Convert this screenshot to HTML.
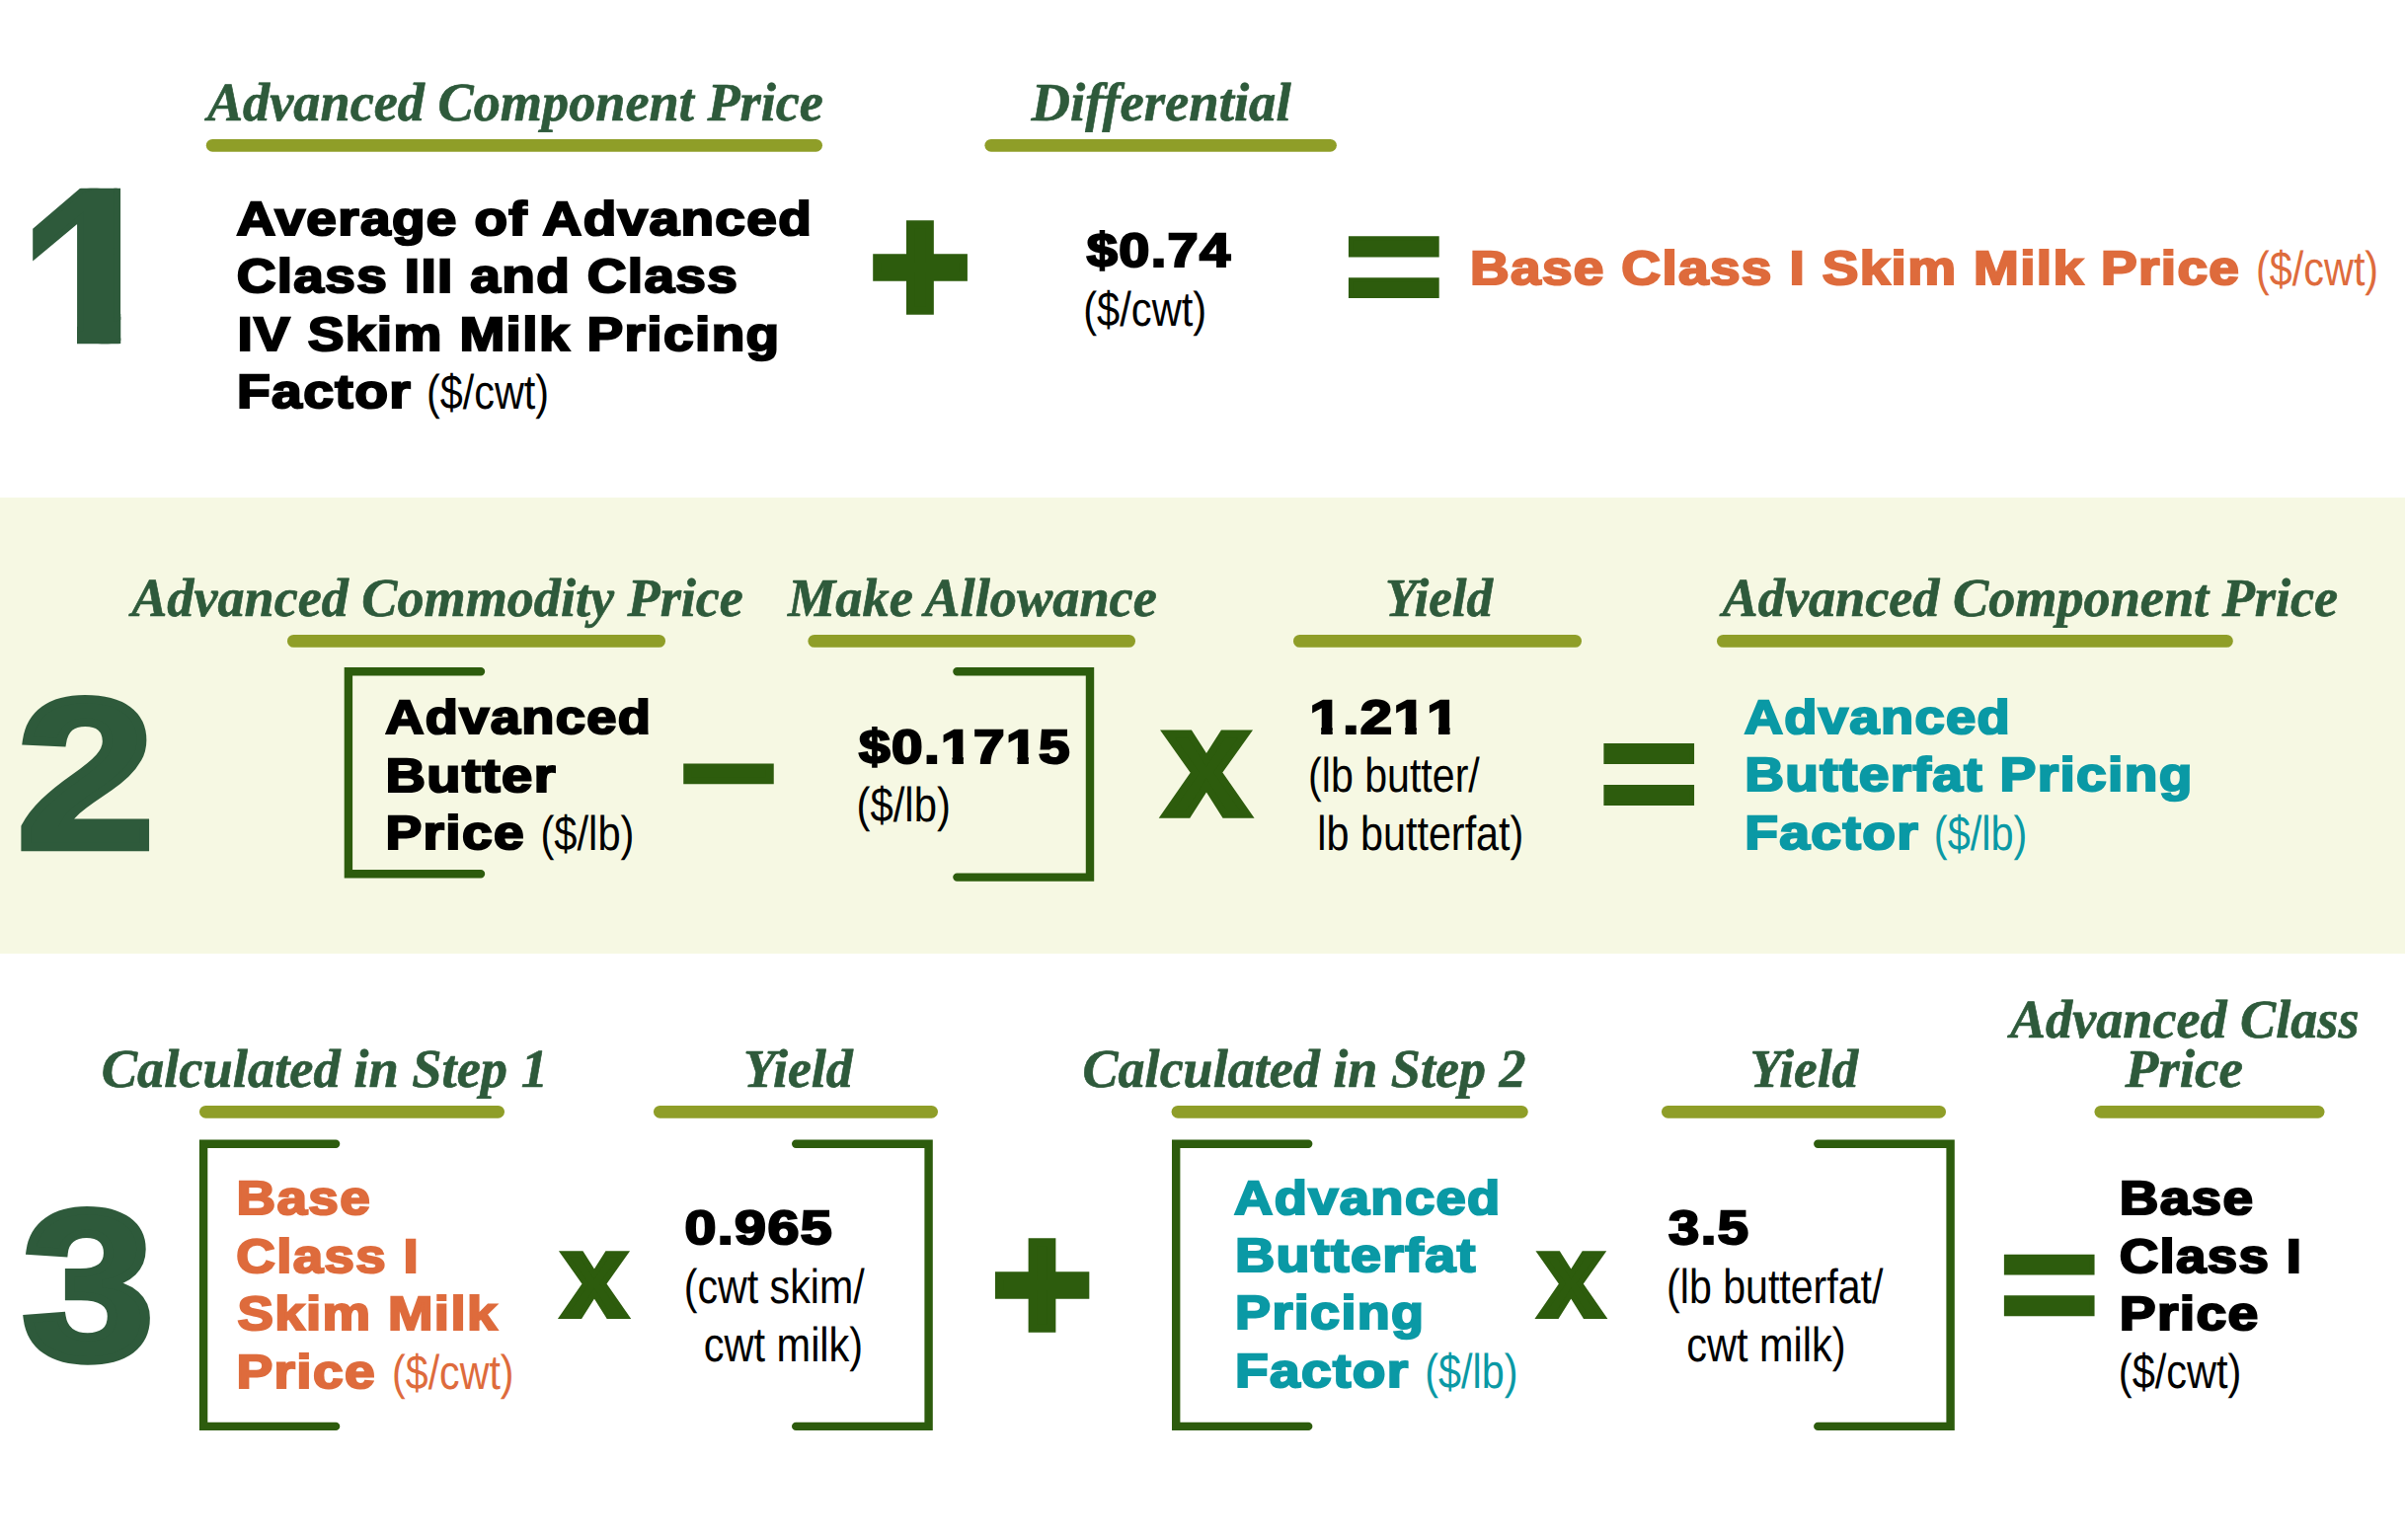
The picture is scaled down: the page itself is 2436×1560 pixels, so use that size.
<!DOCTYPE html>
<html lang="en"><head><meta charset="utf-8"><title>Class I Price Formula</title>
<style>html,body{margin:0;padding:0;background:#fff}body{width:2436px;height:1560px;overflow:hidden}text{text-rendering:geometricPrecision}</style></head>
<body>
<svg width="2436" height="1560" viewBox="0 0 2436 1560" style="display:block">
<rect x="0" y="504.1" width="2436" height="462.0" fill="#f6f8e3"/>
<rect x="208.8" y="140.9" width="624.2" height="12.8" rx="6.4" ry="6.4" fill="#8f9e28"/>
<rect x="997.4" y="140.9" width="356.5" height="12.8" rx="6.4" ry="6.4" fill="#8f9e28"/>
<rect x="291.0" y="643.0" width="383.0" height="12.8" rx="6.4" ry="6.4" fill="#8f9e28"/>
<rect x="818.4" y="643.0" width="331.6" height="12.8" rx="6.4" ry="6.4" fill="#8f9e28"/>
<rect x="1310.0" y="643.0" width="292.0" height="12.8" rx="6.4" ry="6.4" fill="#8f9e28"/>
<rect x="1739.0" y="643.0" width="522.8" height="12.8" rx="6.4" ry="6.4" fill="#8f9e28"/>
<rect x="202.0" y="1119.9" width="309.0" height="12.8" rx="6.4" ry="6.4" fill="#8f9e28"/>
<rect x="662.0" y="1119.9" width="288.0" height="12.8" rx="6.4" ry="6.4" fill="#8f9e28"/>
<rect x="1186.6" y="1119.9" width="361.1" height="12.8" rx="6.4" ry="6.4" fill="#8f9e28"/>
<rect x="1683.0" y="1119.9" width="288.0" height="12.8" rx="6.4" ry="6.4" fill="#8f9e28"/>
<rect x="2121.5" y="1119.9" width="233.0" height="12.8" rx="6.4" ry="6.4" fill="#8f9e28"/>
<path d="M487.0,680.2 H352.9 V885.3 H487.0" fill="none" stroke="#2d5c0d" stroke-width="8.4" stroke-linecap="round" stroke-linejoin="miter"/>
<path d="M969.4,680.2 H1104.0 V888.6 H969.4" fill="none" stroke="#2d5c0d" stroke-width="8.4" stroke-linecap="round" stroke-linejoin="miter"/>
<path d="M340.1,1158.8 H206.1 V1444.9 H340.1" fill="none" stroke="#2d5c0d" stroke-width="8.4" stroke-linecap="round" stroke-linejoin="miter"/>
<path d="M806.2,1158.8 H940.6 V1444.9 H806.2" fill="none" stroke="#2d5c0d" stroke-width="8.4" stroke-linecap="round" stroke-linejoin="miter"/>
<path d="M1325.2,1158.8 H1191.2 V1444.9 H1325.2" fill="none" stroke="#2d5c0d" stroke-width="8.4" stroke-linecap="round" stroke-linejoin="miter"/>
<path d="M1841.3,1158.8 H1975.6 V1444.9 H1841.3" fill="none" stroke="#2d5c0d" stroke-width="8.4" stroke-linecap="round" stroke-linejoin="miter"/>
<text transform="translate(209.91,121.55) scale(0.9867,1.0000)" font-family='"Liberation Serif", serif' font-weight="bold" font-style="italic" font-size="55" fill="#2e5a3b" stroke="#2e5a3b" stroke-width="0.7" stroke-linejoin="round" xml:space="preserve">Advanced Component Price</text>
<text transform="translate(1044.55,121.55) scale(0.9934,1.0000)" font-family='"Liberation Serif", serif' font-weight="bold" font-style="italic" font-size="55" fill="#2e5a3b" stroke="#2e5a3b" stroke-width="0.7" stroke-linejoin="round" xml:space="preserve">Differential</text>
<clipPath id="c2"><polygon points="0,190.8 122.25,190.8 122.25,348.3 78,348.3 78,300 0,300"/></clipPath><g clip-path="url(#c2)"><g transform="translate(122.3,0) skewY(-16) translate(-122.3,0)"><text transform="translate(18.01,345.32) scale(1.3598,1.1930)" font-family='"Liberation Sans", sans-serif' font-weight="bold" font-style="normal" font-size="200" fill="#2e5a3b" stroke="#2e5a3b" stroke-width="5" stroke-linejoin="miter" xml:space="preserve">1</text></g></g>
<text transform="translate(239.38,237.70) scale(1.1378,1.0000)" font-family='"Liberation Sans", sans-serif' font-weight="bold" font-style="normal" font-size="48.3" fill="#000000" stroke="#000000" stroke-width="2.2" stroke-linejoin="miter" letter-spacing="1.2" xml:space="preserve">Average of Advanced</text>
<text transform="translate(239.66,296.20) scale(1.1378,1.0000)" font-family='"Liberation Sans", sans-serif' font-weight="bold" font-style="normal" font-size="48.3" fill="#000000" stroke="#000000" stroke-width="2.2" stroke-linejoin="miter" letter-spacing="1.2" xml:space="preserve">Class III and Class</text>
<text transform="translate(240.44,354.70) scale(1.1391,1.0000)" font-family='"Liberation Sans", sans-serif' font-weight="bold" font-style="normal" font-size="48.3" fill="#000000" stroke="#000000" stroke-width="2.2" stroke-linejoin="miter" letter-spacing="1.2" xml:space="preserve">IV Skim Milk Pricing</text>
<text transform="translate(239.92,412.90) scale(1.1453,1.0000)" font-family='"Liberation Sans", sans-serif' font-weight="bold" font-style="normal" font-size="48.3" fill="#000000" stroke="#000000" stroke-width="2.2" stroke-linejoin="miter" letter-spacing="1.2" xml:space="preserve">Factor</text>
<text transform="translate(431.97,414.00) scale(0.8440,1.0000)" font-family='"Liberation Sans", sans-serif' font-weight="normal" font-style="normal" font-size="49" fill="#000000" xml:space="preserve">($/cwt)</text>
<text transform="translate(881.21,327.98) scale(1.4460,1.4284)" font-family='"Liberation Sans", sans-serif' font-weight="bold" font-style="normal" font-size="120" fill="#2d5c0d" stroke="#2d5c0d" stroke-width="6" stroke-linejoin="miter" xml:space="preserve">+</text>
<text transform="translate(1100.67,270.30) scale(1.1583,1.0000)" font-family='"Liberation Sans", sans-serif' font-weight="bold" font-style="normal" font-size="48.3" fill="#000000" stroke="#000000" stroke-width="2.2" stroke-linejoin="miter" letter-spacing="1.2" xml:space="preserve">$0.74</text>
<text transform="translate(1097.25,330.20) scale(0.8496,1.0000)" font-family='"Liberation Sans", sans-serif' font-weight="normal" font-style="normal" font-size="49" fill="#000000" xml:space="preserve">($/cwt)</text>
<text transform="translate(1360.93,322.31) scale(1.4482,1.2907)" font-family='"Liberation Sans", sans-serif' font-weight="bold" font-style="normal" font-size="120" fill="#2d5c0d" stroke="#2d5c0d" stroke-width="3.2" stroke-linejoin="miter" xml:space="preserve">=</text>
<text transform="translate(1488.94,288.20) scale(1.1375,1.0000)" font-family='"Liberation Sans", sans-serif' font-weight="bold" font-style="normal" font-size="48.3" fill="#de6b3c" stroke="#de6b3c" stroke-width="2.2" stroke-linejoin="miter" letter-spacing="1.2" xml:space="preserve">Base Class I Skim Milk Price</text>
<text transform="translate(2285.07,289.30) scale(0.8440,1.0000)" font-family='"Liberation Sans", sans-serif' font-weight="normal" font-style="normal" font-size="49" fill="#de6b3c" xml:space="preserve">($/cwt)</text>
<text transform="translate(133.20,623.65) scale(0.9846,1.0000)" font-family='"Liberation Serif", serif' font-weight="bold" font-style="italic" font-size="55" fill="#2e5a3b" stroke="#2e5a3b" stroke-width="0.7" stroke-linejoin="round" xml:space="preserve">Advanced Commodity Price</text>
<text transform="translate(797.99,623.65) scale(0.9881,1.0000)" font-family='"Liberation Serif", serif' font-weight="bold" font-style="italic" font-size="55" fill="#2e5a3b" stroke="#2e5a3b" stroke-width="0.7" stroke-linejoin="round" xml:space="preserve">Make Allowance</text>
<text transform="translate(1402.99,623.65) scale(0.9632,1.0000)" font-family='"Liberation Serif", serif' font-weight="bold" font-style="italic" font-size="55" fill="#2e5a3b" stroke="#2e5a3b" stroke-width="0.7" stroke-linejoin="round" xml:space="preserve">Yield</text>
<text transform="translate(1744.60,623.65) scale(0.9859,1.0000)" font-family='"Liberation Serif", serif' font-weight="bold" font-style="italic" font-size="55" fill="#2e5a3b" stroke="#2e5a3b" stroke-width="0.7" stroke-linejoin="round" xml:space="preserve">Advanced Component Price</text>
<text transform="translate(17.67,857.91) scale(1.2432,1.0725)" font-family='"Liberation Sans", sans-serif' font-weight="bold" font-style="normal" font-size="200" fill="#2e5a3b" stroke="#2e5a3b" stroke-width="8" stroke-linejoin="miter" xml:space="preserve">2</text>
<text transform="translate(390.18,743.10) scale(1.1238,1.0000)" font-family='"Liberation Sans", sans-serif' font-weight="bold" font-style="normal" font-size="48.3" fill="#000000" stroke="#000000" stroke-width="2.2" stroke-linejoin="miter" letter-spacing="1.2" xml:space="preserve">Advanced</text>
<text transform="translate(390.39,801.90) scale(1.1610,1.0000)" font-family='"Liberation Sans", sans-serif' font-weight="bold" font-style="normal" font-size="48.3" fill="#000000" stroke="#000000" stroke-width="2.2" stroke-linejoin="miter" letter-spacing="1.2" xml:space="preserve">Butter</text>
<text transform="translate(390.44,860.10) scale(1.1393,1.0000)" font-family='"Liberation Sans", sans-serif' font-weight="bold" font-style="normal" font-size="48.3" fill="#000000" stroke="#000000" stroke-width="2.2" stroke-linejoin="miter" letter-spacing="1.2" xml:space="preserve">Price</text>
<text transform="translate(547.45,861.20) scale(0.8512,1.0000)" font-family='"Liberation Sans", sans-serif' font-weight="normal" font-style="normal" font-size="49" fill="#000000" xml:space="preserve">($/lb)</text>
<text transform="translate(689.43,827.39) scale(1.3826,1.0805)" font-family='"Liberation Sans", sans-serif' font-weight="bold" font-style="normal" font-size="120" fill="#2d5c0d" stroke="#2d5c0d" stroke-width="6" stroke-linejoin="miter" xml:space="preserve">−</text>
<clipPath id="f3"><rect x="-50" y="-200" width="2000" height="193.57"/><rect x="-50" y="3.10" width="2000" height="100"/><rect x="-5.00" y="-7.43" width="75.34" height="11.53"/><rect x="80.60" y="-7.43" width="9.47" height="11.53"/><rect x="99.21" y="-7.43" width="27.26" height="11.53"/><rect x="136.72" y="-7.43" width="9.47" height="11.53"/><rect x="155.33" y="-7.43" width="32.26" height="11.53"/></clipPath><g transform="translate(869.98,772.60) scale(1.1748,1.0000)" clip-path="url(#f3)"><text style="font-kerning:none" transform="translate(0.00,0.00) scale(1.0000,1.0000)" font-family='"Liberation Sans", sans-serif' font-weight="bold" font-style="normal" font-size="48.3" fill="#000000" stroke="#000000" stroke-width="2.2" stroke-linejoin="miter" letter-spacing="1.2" xml:space="preserve">$0.1715</text></g>
<text transform="translate(867.54,832.10) scale(0.8540,1.0000)" font-family='"Liberation Sans", sans-serif' font-weight="normal" font-style="normal" font-size="49" fill="#000000" xml:space="preserve">($/lb)</text>
<text transform="translate(1180.02,825.43) scale(1.2641,1.2892)" font-family='"Liberation Sans", sans-serif' font-weight="bold" font-style="normal" font-size="120" fill="#2d5c0d" stroke="#2d5c0d" stroke-width="6" stroke-linejoin="miter" xml:space="preserve">x</text>
<clipPath id="f4"><rect x="-50" y="-200" width="2000" height="193.57"/><rect x="-50" y="3.10" width="2000" height="100"/><rect x="9.85" y="-7.43" width="9.47" height="11.53"/><rect x="28.46" y="-7.43" width="41.88" height="11.53"/><rect x="80.60" y="-7.43" width="9.47" height="11.53"/><rect x="108.66" y="-7.43" width="9.47" height="11.53"/></clipPath><g transform="translate(1326.39,743.30) scale(1.2026,1.0000)" clip-path="url(#f4)"><text style="font-kerning:none" transform="translate(0.00,0.00) scale(1.0000,1.0000)" font-family='"Liberation Sans", sans-serif' font-weight="bold" font-style="normal" font-size="48.3" fill="#000000" stroke="#000000" stroke-width="2.2" stroke-linejoin="miter" letter-spacing="1.2" xml:space="preserve">1.211</text></g>
<text transform="translate(1325.08,802.30) scale(0.8392,1.0000)" font-family='"Liberation Sans", sans-serif' font-weight="normal" font-style="normal" font-size="49" fill="#000000" xml:space="preserve">(lb butter/</text>
<text transform="translate(1334.36,860.80) scale(0.8431,1.0000)" font-family='"Liberation Sans", sans-serif' font-weight="normal" font-style="normal" font-size="49" fill="#000000" xml:space="preserve">lb butterfat)</text>
<text transform="translate(1619.54,836.10) scale(1.4466,1.2969)" font-family='"Liberation Sans", sans-serif' font-weight="bold" font-style="normal" font-size="120" fill="#2d5c0d" stroke="#2d5c0d" stroke-width="3.2" stroke-linejoin="miter" xml:space="preserve">=</text>
<text transform="translate(1766.68,742.80) scale(1.1246,1.0000)" font-family='"Liberation Sans", sans-serif' font-weight="bold" font-style="normal" font-size="48.3" fill="#0a99a5" stroke="#0a99a5" stroke-width="2.2" stroke-linejoin="miter" letter-spacing="1.2" xml:space="preserve">Advanced</text>
<text transform="translate(1767.13,800.80) scale(1.1402,1.0000)" font-family='"Liberation Sans", sans-serif' font-weight="bold" font-style="normal" font-size="48.3" fill="#0a99a5" stroke="#0a99a5" stroke-width="2.2" stroke-linejoin="miter" letter-spacing="1.2" xml:space="preserve">Butterfat Pricing</text>
<text transform="translate(1767.13,859.60) scale(1.1440,1.0000)" font-family='"Liberation Sans", sans-serif' font-weight="bold" font-style="normal" font-size="48.3" fill="#0a99a5" stroke="#0a99a5" stroke-width="2.2" stroke-linejoin="miter" letter-spacing="1.2" xml:space="preserve">Factor</text>
<text transform="translate(1958.86,860.70) scale(0.8455,1.0000)" font-family='"Liberation Sans", sans-serif' font-weight="normal" font-style="normal" font-size="49" fill="#0a99a5" xml:space="preserve">($/lb)</text>
<text transform="translate(102.72,1101.35) scale(0.9898,1.0000)" font-family='"Liberation Serif", serif' font-weight="bold" font-style="italic" font-size="55" fill="#2e5a3b" stroke="#2e5a3b" stroke-width="0.7" stroke-linejoin="round" xml:space="preserve">Calculated in Step 1</text>
<text transform="translate(752.95,1101.35) scale(0.9803,1.0000)" font-family='"Liberation Serif", serif' font-weight="bold" font-style="italic" font-size="55" fill="#2e5a3b" stroke="#2e5a3b" stroke-width="0.7" stroke-linejoin="round" xml:space="preserve">Yield</text>
<text transform="translate(1096.53,1101.35) scale(0.9828,1.0000)" font-family='"Liberation Serif", serif' font-weight="bold" font-style="italic" font-size="55" fill="#2e5a3b" stroke="#2e5a3b" stroke-width="0.7" stroke-linejoin="round" xml:space="preserve">Calculated in Step 2</text>
<text transform="translate(1772.58,1101.35) scale(0.9686,1.0000)" font-family='"Liberation Serif", serif' font-weight="bold" font-style="italic" font-size="55" fill="#2e5a3b" stroke="#2e5a3b" stroke-width="0.7" stroke-linejoin="round" xml:space="preserve">Yield</text>
<text transform="translate(2036.00,1051.35) scale(0.9845,1.0000)" font-family='"Liberation Serif", serif' font-weight="bold" font-style="italic" font-size="55" fill="#2e5a3b" stroke="#2e5a3b" stroke-width="0.7" stroke-linejoin="round" xml:space="preserve">Advanced Class</text>
<text transform="translate(2152.55,1101.15) scale(1.0034,1.0000)" font-family='"Liberation Serif", serif' font-weight="bold" font-style="italic" font-size="55" fill="#2e5a3b" stroke="#2e5a3b" stroke-width="0.7" stroke-linejoin="round" xml:space="preserve">Price</text>
<text transform="translate(22.90,1375.60) scale(1.1935,1.0718)" font-family='"Liberation Sans", sans-serif' font-weight="bold" font-style="normal" font-size="200" fill="#2e5a3b" stroke="#2e5a3b" stroke-width="8" stroke-linejoin="miter" xml:space="preserve">3</text>
<text transform="translate(239.45,1230.40) scale(1.1355,1.0000)" font-family='"Liberation Sans", sans-serif' font-weight="bold" font-style="normal" font-size="48.3" fill="#de6b3c" stroke="#de6b3c" stroke-width="2.2" stroke-linejoin="miter" letter-spacing="1.2" xml:space="preserve">Base</text>
<text transform="translate(239.37,1289.00) scale(1.1311,1.0000)" font-family='"Liberation Sans", sans-serif' font-weight="bold" font-style="normal" font-size="48.3" fill="#de6b3c" stroke="#de6b3c" stroke-width="2.2" stroke-linejoin="miter" letter-spacing="1.2" xml:space="preserve">Class I</text>
<text transform="translate(240.50,1347.40) scale(1.1308,1.0000)" font-family='"Liberation Sans", sans-serif' font-weight="bold" font-style="normal" font-size="48.3" fill="#de6b3c" stroke="#de6b3c" stroke-width="2.2" stroke-linejoin="miter" letter-spacing="1.2" xml:space="preserve">Skim Milk</text>
<text transform="translate(239.43,1406.10) scale(1.1410,1.0000)" font-family='"Liberation Sans", sans-serif' font-weight="bold" font-style="normal" font-size="48.3" fill="#de6b3c" stroke="#de6b3c" stroke-width="2.2" stroke-linejoin="miter" letter-spacing="1.2" xml:space="preserve">Price</text>
<text transform="translate(397.08,1407.20) scale(0.8397,1.0000)" font-family='"Liberation Sans", sans-serif' font-weight="normal" font-style="normal" font-size="49" fill="#de6b3c" xml:space="preserve">($/cwt)</text>
<text transform="translate(569.65,1333.03) scale(0.9699,0.9899)" font-family='"Liberation Sans", sans-serif' font-weight="bold" font-style="normal" font-size="120" fill="#2d5c0d" stroke="#2d5c0d" stroke-width="6" stroke-linejoin="miter" xml:space="preserve">x</text>
<text transform="translate(693.41,1260.10) scale(1.1880,1.0000)" font-family='"Liberation Sans", sans-serif' font-weight="bold" font-style="normal" font-size="48.3" fill="#000000" stroke="#000000" stroke-width="2.2" stroke-linejoin="miter" letter-spacing="1.2" xml:space="preserve">0.965</text>
<text transform="translate(692.78,1319.80) scale(0.8396,1.0000)" font-family='"Liberation Sans", sans-serif' font-weight="normal" font-style="normal" font-size="49" fill="#000000" xml:space="preserve">(cwt skim/</text>
<text transform="translate(712.81,1378.50) scale(0.8469,1.0000)" font-family='"Liberation Sans", sans-serif' font-weight="normal" font-style="normal" font-size="49" fill="#000000" xml:space="preserve">cwt milk)</text>
<text transform="translate(1005.12,1358.88) scale(1.4415,1.4284)" font-family='"Liberation Sans", sans-serif' font-weight="bold" font-style="normal" font-size="120" fill="#2d5c0d" stroke="#2d5c0d" stroke-width="6" stroke-linejoin="miter" xml:space="preserve">+</text>
<text transform="translate(1250.08,1229.80) scale(1.1251,1.0000)" font-family='"Liberation Sans", sans-serif' font-weight="bold" font-style="normal" font-size="48.3" fill="#0a99a5" stroke="#0a99a5" stroke-width="2.2" stroke-linejoin="miter" letter-spacing="1.2" xml:space="preserve">Advanced</text>
<text transform="translate(1251.00,1288.20) scale(1.1536,1.0000)" font-family='"Liberation Sans", sans-serif' font-weight="bold" font-style="normal" font-size="48.3" fill="#0a99a5" stroke="#0a99a5" stroke-width="2.2" stroke-linejoin="miter" letter-spacing="1.2" xml:space="preserve">Butterfat</text>
<text transform="translate(1251.09,1346.40) scale(1.1171,1.0000)" font-family='"Liberation Sans", sans-serif' font-weight="bold" font-style="normal" font-size="48.3" fill="#0a99a5" stroke="#0a99a5" stroke-width="2.2" stroke-linejoin="miter" letter-spacing="1.2" xml:space="preserve">Pricing</text>
<text transform="translate(1251.03,1404.60) scale(1.1407,1.0000)" font-family='"Liberation Sans", sans-serif' font-weight="bold" font-style="normal" font-size="48.3" fill="#0a99a5" stroke="#0a99a5" stroke-width="2.2" stroke-linejoin="miter" letter-spacing="1.2" xml:space="preserve">Factor</text>
<text transform="translate(1443.37,1405.70) scale(0.8427,1.0000)" font-family='"Liberation Sans", sans-serif' font-weight="normal" font-style="normal" font-size="49" fill="#0a99a5" xml:space="preserve">($/lb)</text>
<text transform="translate(1559.22,1333.03) scale(0.9647,0.9899)" font-family='"Liberation Sans", sans-serif' font-weight="bold" font-style="normal" font-size="120" fill="#2d5c0d" stroke="#2d5c0d" stroke-width="6" stroke-linejoin="miter" xml:space="preserve">x</text>
<text transform="translate(1690.10,1260.10) scale(1.1625,1.0000)" font-family='"Liberation Sans", sans-serif' font-weight="bold" font-style="normal" font-size="48.3" fill="#000000" stroke="#000000" stroke-width="2.2" stroke-linejoin="miter" letter-spacing="1.2" xml:space="preserve">3.5</text>
<text transform="translate(1688.08,1319.80) scale(0.8387,1.0000)" font-family='"Liberation Sans", sans-serif' font-weight="normal" font-style="normal" font-size="49" fill="#000000" xml:space="preserve">(lb butterfat/</text>
<text transform="translate(1708.21,1378.50) scale(0.8464,1.0000)" font-family='"Liberation Sans", sans-serif' font-weight="normal" font-style="normal" font-size="49" fill="#000000" xml:space="preserve">cwt milk)</text>
<text transform="translate(2024.94,1352.94) scale(1.4466,1.2866)" font-family='"Liberation Sans", sans-serif' font-weight="bold" font-style="normal" font-size="120" fill="#2d5c0d" stroke="#2d5c0d" stroke-width="3.2" stroke-linejoin="miter" xml:space="preserve">=</text>
<text transform="translate(2146.75,1230.30) scale(1.1355,1.0000)" font-family='"Liberation Sans", sans-serif' font-weight="bold" font-style="normal" font-size="48.3" fill="#000000" stroke="#000000" stroke-width="2.2" stroke-linejoin="miter" letter-spacing="1.2" xml:space="preserve">Base</text>
<text transform="translate(2146.67,1288.60) scale(1.1311,1.0000)" font-family='"Liberation Sans", sans-serif' font-weight="bold" font-style="normal" font-size="48.3" fill="#000000" stroke="#000000" stroke-width="2.2" stroke-linejoin="miter" letter-spacing="1.2" xml:space="preserve">Class I</text>
<text transform="translate(2146.73,1347.40) scale(1.1426,1.0000)" font-family='"Liberation Sans", sans-serif' font-weight="bold" font-style="normal" font-size="48.3" fill="#000000" stroke="#000000" stroke-width="2.2" stroke-linejoin="miter" letter-spacing="1.2" xml:space="preserve">Price</text>
<text transform="translate(2145.86,1406.10) scale(0.8475,1.0000)" font-family='"Liberation Sans", sans-serif' font-weight="normal" font-style="normal" font-size="49" fill="#000000" xml:space="preserve">($/cwt)</text>
</svg>
</body></html>
